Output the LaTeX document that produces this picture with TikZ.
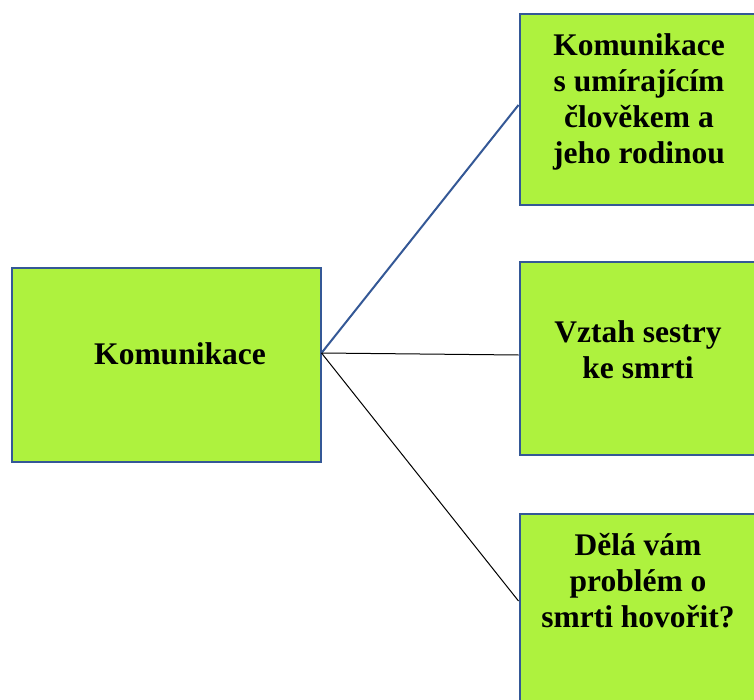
\documentclass[tikz,border=0pt]{standalone}
\usepackage{fontspec}
\setmainfont{Liberation Serif}
\definecolor{boxfill}{RGB}{174,242,62}
\definecolor{boxline}{RGB}{52,88,150}
\begin{document}
\begin{tikzpicture}[x=1pt,y=-1pt,
  box/.style={draw=boxline,line width=2pt,fill=boxfill,rectangle,inner sep=0pt,anchor=north west},
  label/.style={font=\bfseries\fontsize{31.5}{36}\selectfont,align=center,inner sep=0pt},
  blueline/.style={draw=boxline,line width=2pt},
  thinline/.style={draw=black,line width=1pt}]
\clip (0,0) rectangle (754,700);
\fill[white] (0,0) rectangle (754,700);
% boxes
\node[box,minimum width=309pt,minimum height=193pt] (main) at (10.5,267.5) {};
\node[box,minimum width=280pt,minimum height=191pt] (b1) at (518.5,13.5) {};
\node[box,minimum width=280pt,minimum height=192pt] (b2) at (518.5,261.5) {};
\node[box,minimum width=280pt,minimum height=260pt] (b3) at (518.5,512.5) {};
% texts
\node[label] (t0) at (180,354) {Komunikace};
\node[label] (t1) at (639,102) {Komunikace\\s umírajícím\\člověkem a\\jeho rodinou};
\node[label] (t2) at (638,350) {Vztah sestry\\ke smrti};
\node[label] (t3) at (638,581) {Dělá vám\\problém o\\smrti hovořit?};
% connector end points on box edges
\coordinate (s) at (main.east |- 0,353);
\coordinate (e1) at (b1.west |- 0,105);
\coordinate (e2) at (b2.west |- 0,355);
\coordinate (e3) at (b3.west |- 0,601);
\draw[blueline] (s) -- (e1);
\draw[thinline] (s) -- (e2);
\draw[thinline] (s) -- (e3);
\end{tikzpicture}
\end{document}
